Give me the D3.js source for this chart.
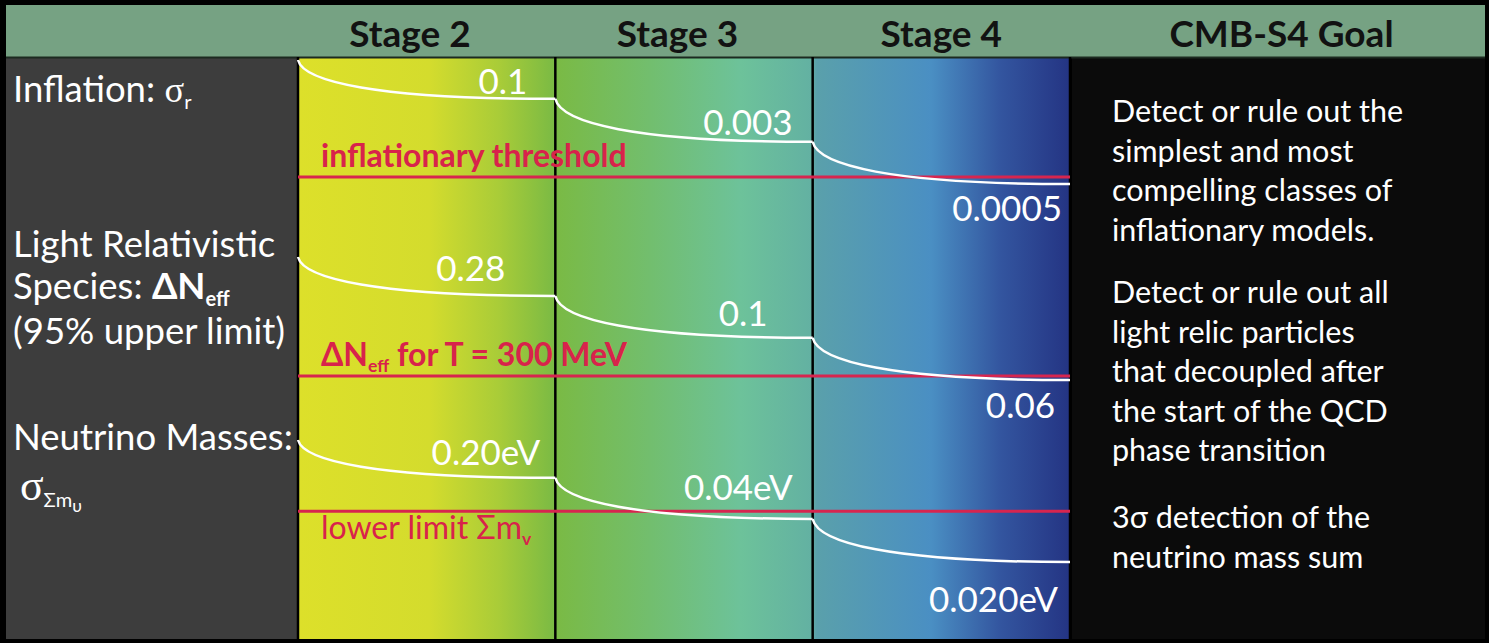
<!DOCTYPE html>
<meta charset="utf-8">
<style>
body { margin: 0; background: #000; }
text { font-family: Lato, "DejaVu Sans", sans-serif; }
.head { font-weight: bold; font-size: 37px; fill: #121212; text-anchor: middle; }
.side { fill: #fff; font-size: 36.5px; }
.value { fill: #fff; font-size: 35px; text-anchor: end; }
.limit { fill: #d8234b; font-size: 32px; }
.goal { fill: #fff; font-size: 30.5px; }
.curve { fill: none; stroke: #fff; stroke-width: 2.5px; }
.threshold { stroke: #d7254f; stroke-width: 3px; }
.divider { stroke: #000; stroke-width: 2.5px; }
.serif { font-family: "Liberation Serif", "DejaVu Serif", serif; }
</style>
<svg width="1489" height="643"></svg>
<script src="https://d3js.org/d3.v7.min.js"></script>
<script>

var stages = ["Stage 2", "Stage 3", "Stage 4"];
var goalTitle = "CMB-S4 Goal";

// where each curve sits at the stage boundaries, in "steps" below the row start
var inflationLevels = [0, 0.94, 1.98, 3];
var neffLevels = [0, 0.95, 1.97, 3];
var mnuLevels = [0, 0.93, 1.94, 3];

var inflationValues = ["0.1", "0.003", "0.0005"];
var neffValues = ["0.28", "0.1", "0.06"];
var mnuValues = ["0.20eV", "0.04eV", "0.020eV"];

// red threshold lines, same step units
var thresholdLevels = [2.83, 2.9, 1.75];

var thresholdLabels = [
  [{t: "inflationary threshold", b: 1}],
  [{t: "\u0394N", b: 1}, {t: "eff", b: 1, sub: 1}, {t: "  for T = 300 MeV", b: 1}],
  [{t: "lower limit \u03a3m"}, {t: "v", b: 1, sub: 1}]
];

var sideLabels = [
  [[{t: "Inflation: "}, {t: "\u03c3", serif: 1}, {t: "r", sub: 1}]],
  [[{t: "Light Relativistic"}],
   [{t: "Species: "}, {t: "\u0394N", b: 1}, {t: "eff", b: 1, sub: 1}],
   [{t: "(95% upper limit)"}]],
  [[{t: "Neutrino Masses:"}],
   [{t: "\u03c3", serif: 1, big: 1}, {t: "\u03a3m", sub: 1}, {t: "\u03c5", sub: 2}]]
];

var goalLines = [
  ["Detect or rule out the", "simplest and most", "compelling classes of", "inflationary models."],
  ["Detect or rule out all", "light relic particles", "that decoupled after", "the start of the QCD", "phase transition"],
  ["3\u03c3 detection of the", "neutrino mass sum"]
];

var rows = [
  {levels: inflationLevels, values: inflationValues},
  {levels: neffLevels, values: neffValues},
  {levels: mnuLevels, values: mnuValues}
];

var svg = d3.select("svg"),
    width = +svg.attr("width"),
    height = +svg.attr("height");

// layout
var headTop = 5, headBottom = 57, bodyBottom = 639;
var x = d3.scaleLinear().domain([0, 3]).range([298, 1070]);
var headPos = [0.435, 1.475, 2.5];
var rowTop = [60, 257, 440], rowBottom = [184, 380, 562];
var sideBase = [[102], [257, 299, 344], [450, 500]];
var goalBase = [122, 303, 528], goalStep = 39.5;
var valueInset = [[28, 20, 8], [50, 45, 15], [15, 20, 12]];
var valueLift = [[-5, -7, 37], [-15, -12, 38], [-13, -19, 50]];

var grad = svg.append("defs").append("linearGradient")
    .attr("id", "stageGrad")
    .attr("gradientUnits", "userSpaceOnUse")
    .attr("x1", x(0)).attr("x2", x(3)).attr("y1", 0).attr("y2", 0);
[[0, "#dde02a"], [0.17, "#d4dc2d"], [0.26, "#a9cc38"], [0.333, "#7aba44"],
 [0.456, "#72be6e"], [0.573, "#6dc29a"], [0.665, "#63b1a2"], [0.672, "#5aa0ab"],
 [0.82, "#4a8fc3"], [0.91, "#33559f"], [1, "#243483"]].forEach(function(s) {
  grad.append("stop").attr("offset", s[0]).attr("stop-color", s[1]);
});

// panels
svg.append("rect").attr("x", 6).attr("y", headTop).attr("width", width - 10).attr("height", headBottom - headTop)
    .attr("fill", "#76a283");
svg.append("rect").attr("x", 6).attr("y", headBottom + 1).attr("width", x(0) - 6).attr("height", bodyBottom - headBottom - 1)
    .attr("fill", "#3d3d3d");
svg.append("rect").attr("x", x(0)).attr("y", headBottom + 1).attr("width", x(3) - x(0)).attr("height", bodyBottom - headBottom - 1)
    .attr("fill", "url(#stageGrad)");
svg.append("rect").attr("x", x(3) + 2).attr("y", headBottom + 1).attr("width", width - x(3) - 6).attr("height", bodyBottom - headBottom - 1)
    .attr("fill", "#0b0b0b");
svg.append("line").attr("x1", 6).attr("x2", width - 4).attr("y1", headBottom + 0.5).attr("y2", headBottom + 0.5)
    .attr("stroke", "#1c2a20").attr("stroke-width", 2);

svg.selectAll(".divider")
  .data([0, 1, 2, 3])
  .enter().append("line")
    .attr("class", "divider")
    .attr("x1", function(d) { return x(d); })
    .attr("x2", function(d) { return x(d); })
    .attr("y1", headBottom)
    .attr("y2", bodyBottom);

// header
svg.selectAll(".head")
  .data(stages.concat([goalTitle]))
  .enter().append("text")
    .attr("class", "head")
    .attr("x", function(d, i) { return i < 3 ? x(headPos[i]) : (x(3) + width) / 2 + 2; })
    .attr("y", 47)
    .text(function(d) { return d; });

function richText(sel, segs, size) {
  var shift = 0;
  segs.forEach(function(s) {
    var lvl = s.sub || 0;
    var target = lvl === 0 ? 0 : lvl === 1 ? size * 0.18 : size * 0.34;
    var ts = sel.append("tspan").text(s.t).attr("dy", target - shift);
    shift = target;
    if (s.b) ts.attr("font-weight", "bold");
    if (s.serif) ts.attr("class", "serif");
    if (s.big) ts.attr("font-size", size * 1.2);
    if (lvl) ts.attr("font-size", lvl === 1 ? size * 0.55 : size * 0.48);
  });
}

// row labels
sideLabels.forEach(function(lines, r) {
  lines.forEach(function(segs, j) {
    var t = svg.append("text").attr("class", "side")
        .attr("x", (r === 2 && j === 1) ? 20 : 13)
        .attr("y", sideBase[r][j]);
    richText(t, segs, 36.5);
  });
});

// thresholds
rows.forEach(function(row, r) {
  var y = d3.scaleLinear().domain([0, 3]).range([rowTop[r], rowBottom[r]]);
  row.y = y;
  var ty = y(thresholdLevels[r]);
  svg.append("line").attr("class", "threshold")
      .attr("x1", x(0)).attr("x2", x(3)).attr("y1", ty).attr("y2", ty);
  var lt = svg.append("text").attr("class", "limit")
      .attr("x", x(0) + 23)
      .attr("y", r === 2 ? ty + 28 : ty - 10);
  richText(lt, thresholdLabels[r], 32);
});

// curves
rows.forEach(function(row, r) {
  var y = row.y;
  svg.selectAll(".curve-" + r)
    .data(row.values)
    .enter().append("path")
      .attr("class", "curve curve-" + r)
      .attr("d", function(d, i) {
        var x0 = x(i), x1 = x(i + 1), y0 = y(row.levels[i]), y1 = y(row.levels[i + 1]);
        var p = d3.path();
        p.moveTo(x0, y0);
        p.bezierCurveTo(x0 + 0.02 * (x1 - x0), y0 + 0.55 * (y1 - y0), x0 + 0.3 * (x1 - x0), y1, x1, y1);
        return p.toString();
      });

  svg.selectAll(".value-" + r)
    .data(row.values)
    .enter().append("text")
      .attr("class", "value value-" + r)
      .attr("x", function(d, i) { return x(i + 1) - valueInset[r][i]; })
      .attr("y", function(d, i) { return y(row.levels[i + 1]) + valueLift[r][i]; })
      .text(function(d) { return d; });
});

// goals
goalLines.forEach(function(lines, b) {
  svg.selectAll(".goal-" + b)
    .data(lines)
    .enter().append("text")
      .attr("class", "goal goal-" + b)
      .attr("x", 1112)
      .attr("y", function(d, i) { return goalBase[b] + i * goalStep; })
      .text(function(d) { return d; });
});

</script>
